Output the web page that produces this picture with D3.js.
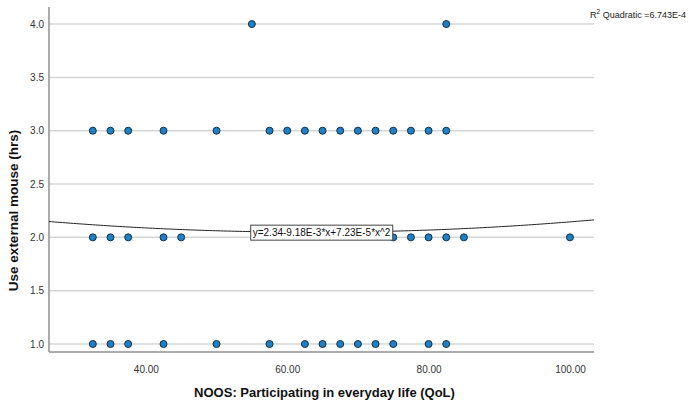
<!DOCTYPE html>
<html>
<head>
<meta charset="utf-8">
<script src="https://cdn.jsdelivr.net/npm/d3@7/dist/d3.min.js"></script>
<style>
  html, body { margin: 0; padding: 0; background: #fff; }
  svg { display: block; font-family: "Liberation Sans", Arial, sans-serif; }
</style>
</head>
<body>
<svg id="chart" width="689" height="405"></svg>
<script>
// Observations: NOOS participation score (x) per reported hours of external mouse use (y)
const scoresAt4 = [55, 82.5];
const scoresAt3 = [32.5, 35, 37.5, 42.5, 50, 57.5, 60, 62.5, 65, 67.5, 70, 72.5, 75, 77.5, 80, 82.5];
const scoresAt2 = [32.5, 35, 37.5, 42.5, 45, 75, 77.5, 80, 82.5, 85, 100];
const scoresAt1 = [32.5, 35, 37.5, 42.5, 50, 57.5, 62.5, 65, 67.5, 70, 72.5, 75, 80, 82.5];

// Quadratic fit coefficients and its R squared
const fitCoef = [2.34, -9.18e-3, 7.23e-5];
const fitLabel = "y=2.34-9.18E-3*x+7.23E-5*x^2";
const rSquaredText = "6.743E-4";

const xTicks = [40, 60, 80, 100];
const yTicks = [1.0, 1.5, 2.0, 2.5, 3.0, 3.5, 4.0];
const xTitle = "NOOS: Participating in everyday life (QoL)";
const yTitle = "Use external mouse (hrs)";

const points = [
  ...scoresAt4.map(x => ({ x, y: 4 })),
  ...scoresAt3.map(x => ({ x, y: 3 })),
  ...scoresAt2.map(x => ({ x, y: 2 })),
  ...scoresAt1.map(x => ({ x, y: 1 }))
];

const svg = d3.select("#chart");
const plot = { left: 49, right: 594, top: 7, bottom: 352 };

const x = d3.scaleLinear().domain([26.3, 103.4]).range([plot.left, plot.right]);
const y = d3.scaleLinear().domain([0.925, 4.16]).range([plot.bottom, plot.top]);

// Horizontal gridlines
svg.append("g")
  .selectAll("line")
  .data(yTicks)
  .join("line")
  .attr("x1", plot.left).attr("x2", plot.right)
  .attr("y1", d => y(d)).attr("y2", d => y(d))
  .attr("stroke", "#d6d6d6")
  .attr("stroke-width", 1.5);

// Y axis
const yAxis = svg.append("g")
  .attr("transform", `translate(${plot.left},0)`)
  .call(d3.axisLeft(y).tickValues(yTicks).tickFormat(d3.format(".1f")).tickSize(0).tickPadding(5));
yAxis.select(".domain").remove();
yAxis.selectAll("text").attr("fill", "#333").style("font-size", "10px");

// X axis
const xAxis = svg.append("g")
  .attr("transform", `translate(0,${plot.bottom})`)
  .call(d3.axisBottom(x).tickValues(xTicks).tickFormat(d3.format(".2f")).tickSize(0).tickPadding(14));
xAxis.select(".domain").remove();
xAxis.selectAll("text").attr("fill", "#333").style("font-size", "10px");

// Axis lines
svg.append("line")
  .attr("x1", plot.left).attr("x2", plot.left)
  .attr("y1", plot.top).attr("y2", plot.bottom)
  .attr("stroke", "#8f8f8f").attr("stroke-width", 1.5);
svg.append("line")
  .attr("x1", plot.left).attr("x2", plot.right)
  .attr("y1", plot.bottom).attr("y2", plot.bottom)
  .attr("stroke", "#8f8f8f").attr("stroke-width", 1.5);

// Fitted quadratic curve
const fit = v => fitCoef[0] + fitCoef[1] * v + fitCoef[2] * v * v;
const xs = d3.range(0, 201).map(i => x.domain()[0] + (x.domain()[1] - x.domain()[0]) * i / 200);
svg.append("path")
  .datum(xs)
  .attr("fill", "none")
  .attr("stroke", "#222")
  .attr("stroke-width", 1)
  .attr("d", d3.line().x(d => x(d)).y(d => y(fit(d))));

// Data points
svg.append("g")
  .selectAll("circle")
  .data(points)
  .join("circle")
  .attr("cx", d => x(d.x))
  .attr("cy", d => y(d.y))
  .attr("r", 3.5)
  .attr("fill", "#1f80c6")
  .attr("stroke", "#10304a")
  .attr("stroke-width", 1);

// Equation label box, centred on the curve at the middle of the plot
const midX = x.invert((plot.left + plot.right) / 2);
const eqG = svg.append("g")
  .attr("transform", `translate(${x(midX)},${y(fit(midX)) + 0.5})`);
const eqText = eqG.append("text")
  .attr("text-anchor", "middle")
  .attr("dy", "0.35em")
  .attr("fill", "#111")
  .style("font-size", "10px")
  .text(fitLabel);
const bb = eqText.node().getBBox();
eqG.insert("rect", "text")
  .attr("x", bb.x - 2).attr("y", -7.5)
  .attr("width", bb.width + 4).attr("height", 15)
  .attr("fill", "#fff")
  .attr("stroke", "#444")
  .attr("stroke-width", 1);

// R squared annotation
const r2 = svg.append("text")
  .attr("x", 686).attr("y", 18)
  .attr("text-anchor", "end")
  .attr("fill", "#222")
  .style("font-size", "9px");
r2.append("tspan").text("R");
r2.append("tspan").attr("dy", -4).style("font-size", "6.5px").text("2");
r2.append("tspan").attr("dy", 4).text(" Quadratic =" + rSquaredText);

// Axis titles
svg.append("text")
  .attr("x", (plot.left + plot.right) / 2 + 3)
  .attr("y", 397)
  .attr("text-anchor", "middle")
  .attr("fill", "#111")
  .style("font-size", "13px")
  .style("font-weight", "bold")
  .text(xTitle);

svg.append("text")
  .attr("transform", `translate(18,${(plot.top + plot.bottom) / 2 + 31}) rotate(-90)`)
  .attr("text-anchor", "middle")
  .attr("fill", "#111")
  .style("font-size", "13.5px")
  .style("font-weight", "bold")
  .text(yTitle);
</script>
</body>
</html>
